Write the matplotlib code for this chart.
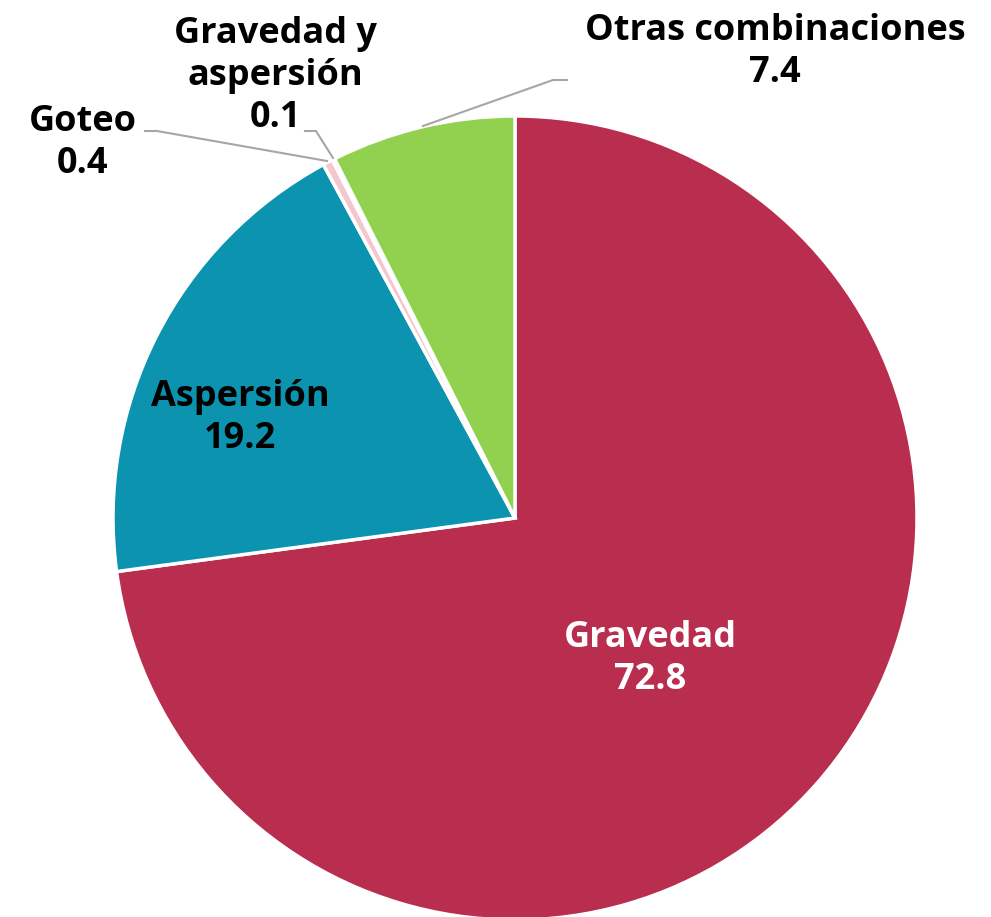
import matplotlib
matplotlib.use("Agg")
from matplotlib import pyplot as plt

# data
categorias = ["Gravedad", "Aspersión", "Goteo", "Gravedad y\naspersión", "Otras combinaciones"]
valores = [72.8, 19.2, 0.4, 0.1, 7.4]
colores = ["#B92D4E", "#0B93B0", "#F4C7D0", "#EDEDED", "#92D050"]

W, H = 991, 917
CX, CY, R = 515, 518, 402


def px(x, y):
    # pixel position -> data coords (pie centred at 0,0 with radius 1)
    return (x - CX) / R, (CY - y) / R


plt.rcParams['font.family'] = ['Open Sans', 'DejaVu Sans']

fig = plt.figure(figsize=(W / 100, H / 100), dpi=100)
ax = fig.add_axes([0, 0, 1, 1])
ax.pie(valores, colors=colores, startangle=90, counterclock=False, radius=1,
       wedgeprops=dict(edgecolor="white", linewidth=2.5))
ax.set_xlim(-CX / R, (W - CX) / R)
ax.set_ylim((CY - H) / R, CY / R)
ax.set_aspect("equal")
ax.axis("off")

fs = 26
# label positions in pixels (layout)
pos = [(650, 659), (240, 418), (83, 143), (275, 76), (775, 52)]
txtcol = ["white", "black", "black", "black", "black"]
for cat, val, (x, y), c in zip(categorias, valores, pos, txtcol):
    ax.text(*px(x, y), f"{cat}\n{val:.1f}", ha="center", va="center",
            fontsize=fs, fontweight="bold", color=c, linespacing=1.22)

# leader lines
lc = "#A6A6A6"
lines = [
    [(145, 131), (157, 131), (327, 161)],
    [(305, 131), (316, 131), (333, 158)],
    [(567, 80), (553, 80), (423, 126)],
]
for pts in lines:
    xs, ys = zip(*[px(x, y) for x, y in pts])
    ax.plot(xs, ys, color=lc, linewidth=1.5)

fig.savefig("out.png", dpi=100)
